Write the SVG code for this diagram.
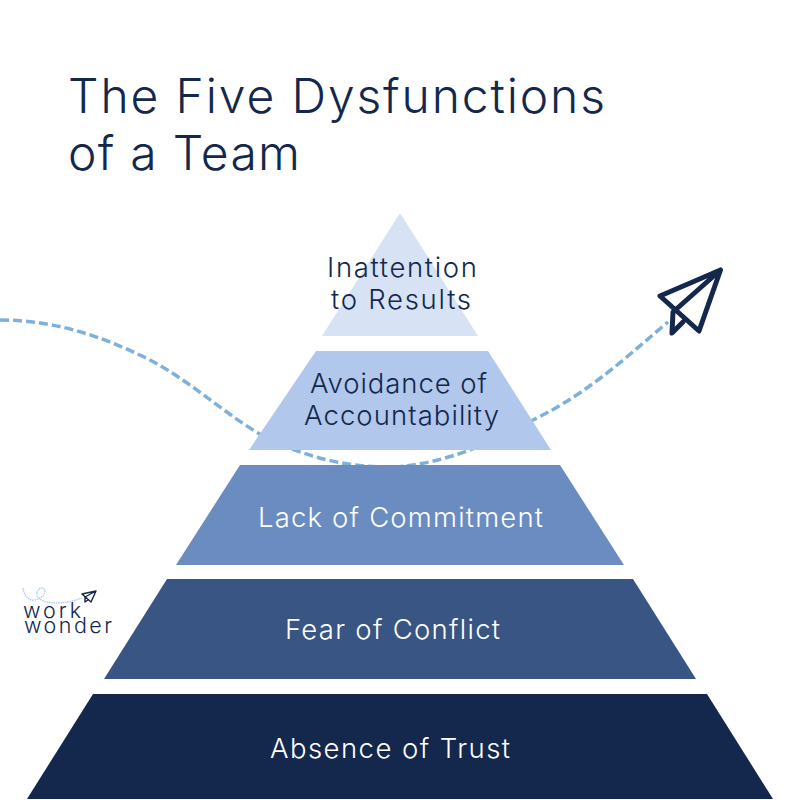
<svg xmlns="http://www.w3.org/2000/svg" width="800" height="800" viewBox="0 0 800 800">
<style>
text{font-family:"Inter","Liberation Sans",sans-serif;font-weight:300}
.d{fill:#14284d}.l{fill:#fff}
.lab{font-size:27.5px}
.title{font-size:48px}
.logo{font-size:21.5px}
.curve{fill:none;stroke:#7eb0dc;stroke-width:3.5;stroke-dasharray:9 4}
.plane{fill:none;stroke:#14284d;stroke-linejoin:round;stroke-linecap:round}
</style>
<rect width="800" height="800" fill="#fff"/>
<g id="connectors">
<path class="curve" d="M0 320C60 320 110 340 150 360C190 381 220 410 258 433C290 452 340 467 385 467C430 467 480 450 533 420C590 392 625 358 668 322"/>
</g>
<g id="title"><text class="d title" x="68" y="113" textLength="537">The Five Dysfunctions</text><text class="d title" x="68" y="170" textLength="232">of a Team</text></g>
<g id="level-5"><polygon points="400,213 478,336 322,336" fill="#d7e2f5"/><text class="d lab" x="327" y="277" textLength="150">Inattention</text><text class="d lab" x="331" y="309" textLength="140">to Results</text></g>
<g id="level-4"><polygon points="316,351 488,351 551,450 249,450" fill="#b2c7ec"/><text class="d lab" x="310" y="393" textLength="177">Avoidance of</text><text class="d lab" x="304" y="425" textLength="195">Accountability</text></g>
<g id="level-3"><polygon points="240,465 560,465 624,565 176,565" fill="#6b8cc1"/><text class="l lab" x="258" y="527" textLength="285">Lack of Commitment</text></g>
<g id="level-2"><polygon points="167,579 633,579 696,679 104,679" fill="#385584"/><text class="l lab" x="285" y="639" textLength="215">Fear of Conflict</text></g>
<g id="level-1"><polygon points="93,694 707,694 773,799 27,799" fill="#14284d"/><text class="l lab" x="270" y="758" textLength="240">Absence of Trust</text></g>
<g id="plane"><path class="plane" stroke-width="5" d="M720.5 270L660 296L699 331ZM720.5 270L673 312L672 333L683 322"/></g>
<g id="logo">
<path d="M23 588C24 596 29 601 35 600C42 599 47 592 44 589C41 586 36 590 37 595C38 600 46 603 56 603C65 603 74 601 82 598" fill="none" stroke="#a9cdea" stroke-width="1.3" stroke-dasharray="1.5 .8"/>
<path class="plane" stroke-width="1.4" d="M96 591L82 594L91 602ZM96 591L85 597L85 602L88 600"/>
<text class="d logo" x="23" y="618" textLength="58">work</text><text class="d logo" x="24" y="633" textLength="88">wonder</text>
</g>
</svg>
